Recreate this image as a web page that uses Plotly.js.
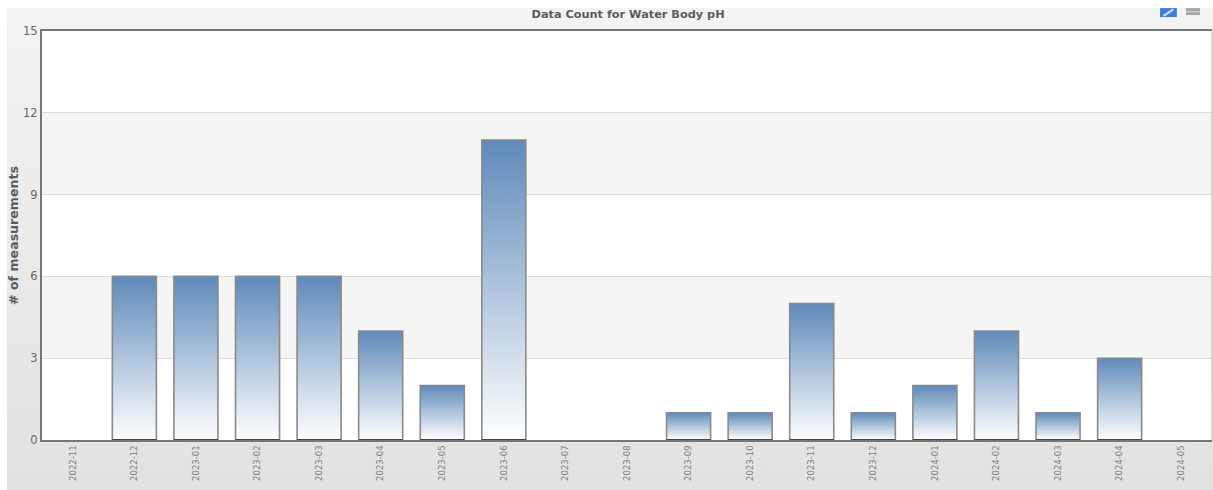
<!DOCTYPE html>
<html>
<head>
<meta charset="utf-8">
<script src="https://cdn.plot.ly/plotly-3.0.1.min.js"></script>
<style>
  html, body { margin: 0; padding: 0; background: #ffffff; overflow: hidden; }
  #chart {
    position: absolute; left: 7px; top: 8px; width: 1206px; height: 482px;
    background: linear-gradient(to bottom, #f3f3f3 0%, #e2e2e2 100%);
  }
</style>
</head>
<body>
<div id="chart"></div>
<script>
// Monthly measurement counts
const months = ["2022-11","2022-12","2023-01","2023-02","2023-03","2023-04","2023-05","2023-06","2023-07","2023-08","2023-09","2023-10","2023-11","2023-12","2024-01","2024-02","2024-03","2024-04","2024-05"];
const counts = [0,6,6,6,6,4,2,11,0,0,1,1,5,1,2,4,1,3,0];
const yTicks = [0,3,6,9,12,15];
const shadedBands = [[3,6],[9,12]];

const chartTitle = "Data Count for Water Body pH";
const yAxisTitle = "# of measurements";
const fontFamily = "'DejaVu Sans', Verdana, sans-serif";

// Months that have data get a dark foot along the baseline
const footMonths = months.filter((m, i) => counts[i] > 0);
const footValues = footMonths.map(() => 0);

const traces = [
  {
    type: "bar",
    x: months,
    y: counts,
    width: 0.715,
    marker: {
      color: "#6a93bf",
      // empty months draw nothing, not even an outline
      line: { color: "#8a8a8a", width: counts.map(c => (c > 0 ? 1.6 : 0)) }
    },
    hoverinfo: "x+y"
  },
  {
    type: "scatter",
    mode: "markers",
    x: footMonths,
    y: footValues,
    marker: { symbol: "line-ew", size: 31.4, line: { color: "#444444", width: 2 } },
    cliponaxis: false,
    hoverinfo: "skip"
  }
];

const bandShapes = shadedBands.map(b => ({
  type: "rect", layer: "below", xref: "paper", yref: "y",
  x0: 0, x1: 1, y0: b[0], y1: b[1],
  fillcolor: "#f5f5f5", line: { width: 0 }
}));

// Small toolbar glyphs in the top-right corner of the chart
const toolShapes = [
  { type: "rect", xref: "paper", yref: "paper", x0: 0.9556, x1: 0.9700, y0: 1.034, y1: 1.056,
    fillcolor: "#3f7fd6", line: { width: 0 } },
  { type: "line", xref: "paper", yref: "paper", x0: 0.9585, x1: 0.9670, y0: 1.037, y1: 1.053,
    line: { color: "#cfe0f5", width: 2 } },
  { type: "rect", xref: "paper", yref: "paper", x0: 0.9778, x1: 0.9897, y0: 1.039, y1: 1.056,
    fillcolor: "#a8a8a8", line: { width: 0 } },
  { type: "line", xref: "paper", yref: "paper", x0: 0.9778, x1: 0.9897, y0: 1.047, y1: 1.047,
    line: { color: "#d8d8d8", width: 1 } },
  { type: "line", xref: "paper", yref: "paper", x0: 1, x1: 1, y0: 0, y1: 1,
    line: { color: "#b5b5b5", width: 1 } }
];

const layout = {
  width: 1206,
  height: 482,
  margin: { l: 35, r: 1, t: 23, b: 50 },
  paper_bgcolor: "rgba(0,0,0,0)",
  plot_bgcolor: "#ffffff",
  showlegend: false,
  font: { family: fontFamily, color: "#666666" },
  title: {
    text: chartTitle,
    font: { family: fontFamily, size: 11.3, weight: "bold", color: "#5c5c5c" },
    x: 0.515, xanchor: "center", y: 0.9875, yanchor: "middle"
  },
  xaxis: {
    type: "category",
    range: [-0.5, 18.5],
    tickangle: -90,
    tickfont: { size: 8.5, color: "#808080" },
    ticks: "",
    ticklen: 0,
    showgrid: false,
    showline: true,
    mirror: true,
    linecolor: "#777777",
    linewidth: 2,
    zeroline: false,
    automargin: false
  },
  yaxis: {
    range: [0, 15],
    tickvals: yTicks,
    ticktext: yTicks.map(String),
    tickfont: { size: 11.5, color: "#666666" },
    ticks: "",
    showgrid: true,
    gridcolor: "#dcdcdc",
    gridwidth: 1,
    showline: true,
    linecolor: "#777777",
    linewidth: 2,
    zeroline: false,
    automargin: false,
    title: {
      text: yAxisTitle,
      font: { family: fontFamily, size: 12.6, weight: "bold", color: "#5c5c5c" }
    }
  },
  shapes: bandShapes.concat(toolShapes),
  bargap: 0.285
};

// Plotly bars only take flat fills, so each bar's path is pointed at a shared SVG gradient
function applyBarGradient(gd) {
  const svg = gd.querySelector(".main-svg");
  const ns = "http://www.w3.org/2000/svg";
  if (!svg.querySelector("#barFade")) {
    const defs = svg.querySelector("defs") || svg.insertBefore(document.createElementNS(ns, "defs"), svg.firstChild);
    const grad = document.createElementNS(ns, "linearGradient");
    grad.setAttribute("id", "barFade");
    grad.setAttribute("x1", "0"); grad.setAttribute("y1", "0");
    grad.setAttribute("x2", "0"); grad.setAttribute("y2", "1");
    [["0%", "#5f8aba"], ["100%", "#ffffff"]].forEach(([off, col]) => {
      const stop = document.createElementNS(ns, "stop");
      stop.setAttribute("offset", off);
      stop.setAttribute("stop-color", col);
      grad.appendChild(stop);
    });
    defs.appendChild(grad);
  }
  gd.querySelectorAll(".barlayer .point path").forEach(p => {
    p.style.fill = "url(#barFade)";
  });
}

// Pull the y-axis title a little closer to the chart's left edge
function nudgeAxisTitle(gd) {
  const t = gd.querySelector(".ytitle");
  if (t && !t.hasAttribute("data-nudged")) {
    t.setAttribute("transform", "translate(-1.5,0) " + (t.getAttribute("transform") || ""));
    t.setAttribute("data-nudged", "1");
  }
}

const gd = document.getElementById("chart");
Plotly.newPlot(gd, traces, layout, { displayModeBar: false, responsive: false }).then(() => {
  applyBarGradient(gd);
  nudgeAxisTitle(gd);
  gd.on("plotly_afterplot", () => { applyBarGradient(gd); nudgeAxisTitle(gd); });
});
</script>
</body>
</html>
